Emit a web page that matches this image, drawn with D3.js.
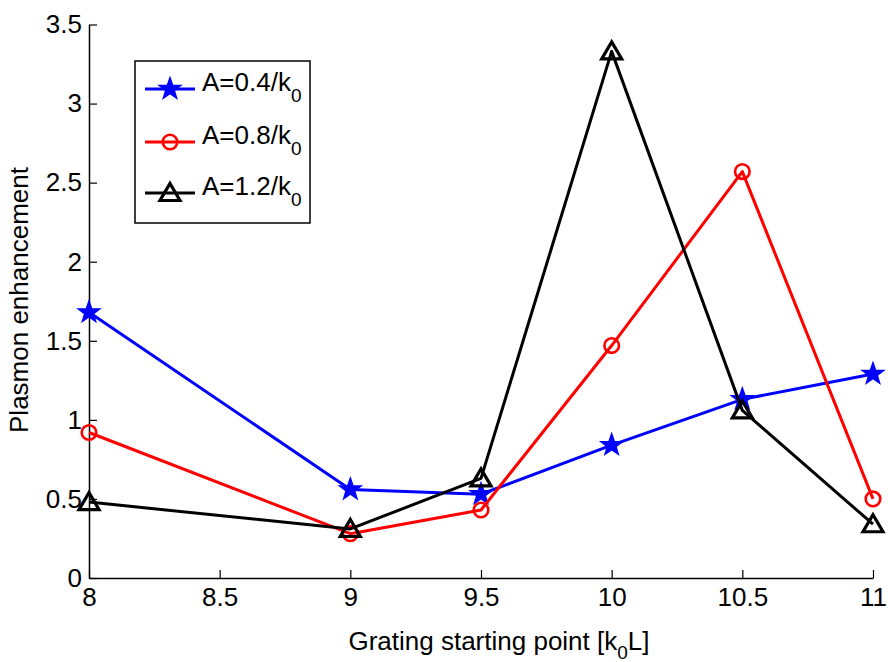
<!DOCTYPE html>
<html>
<head>
<meta charset="utf-8">
<script src="https://cdn.jsdelivr.net/npm/d3@7"></script>
<style>
  body { margin: 0; background: #fff; }
  text { font-family: "Liberation Sans", Arial, Helvetica, sans-serif; fill: #000; }
</style>
</head>
<body>
<svg id="chart" width="888" height="662"></svg>
<script>
// Grating starting points (k0 L) and plasmon enhancement for each amplitude
const startPoints = [8, 9, 9.5, 10, 10.5, 11];
const enhanceA04 = [1.68, 0.56, 0.53, 0.84, 1.13, 1.29];
const enhanceA08 = [0.92, 0.28, 0.43, 1.47, 2.57, 0.50];
const enhanceA12 = [0.48, 0.31, 0.63, 3.33, 1.06, 0.34];
const seriesNames = ["A=0.4/k", "A=0.8/k", "A=1.2/k"];
const seriesColors = ["#0000ff", "#ff0000", "#000000"];
const seriesMarkers = ["star", "circle", "triangle"];
const xTicks = [8, 8.5, 9, 9.5, 10, 10.5, 11];
const yTicks = [0, 0.5, 1, 1.5, 2, 2.5, 3, 3.5];

const svg = d3.select("#chart");
const W = 888, H = 662;
const margin = { left: 89, right: 15, top: 24.5, bottom: 84 };

const x = d3.scaleLinear().domain([8, 11]).range([margin.left, W - margin.right]);
const y = d3.scaleLinear().domain([0, 3.5]).range([H - margin.bottom, margin.top]);

// Axes: ticks point into the plot, no box
const xAxis = d3.axisBottom(x).tickValues(xTicks).tickFormat(d => String(d))
  .tickSizeInner(-8).tickSizeOuter(0).tickPadding(10);
const yAxis = d3.axisLeft(y).tickValues(yTicks).tickFormat(d => String(d))
  .tickSizeInner(-8).tickSizeOuter(0).tickPadding(7);

const gx = svg.append("g").attr("transform", `translate(0,${y(0)})`).call(xAxis);
const gy = svg.append("g").attr("transform", `translate(${x(8)},0)`).call(yAxis);
[gx, gy].forEach(g => {
  g.select(".domain").attr("stroke", "#000").attr("stroke-width", 1.5);
  g.selectAll(".tick line").attr("stroke", "#000").attr("stroke-width", 1.2);
  g.selectAll(".tick text").attr("font-size", 26).attr("fill", "#000")
    .style("font-family", '"Liberation Sans", Arial, sans-serif');
});

// Marker shapes
function starPath(R) {
  const r = R * 0.4;
  const pts = [];
  for (let i = 0; i < 10; i++) {
    const a = -Math.PI / 2 + i * Math.PI / 5;
    const rad = i % 2 === 0 ? R : r;
    pts.push([rad * Math.cos(a), rad * Math.sin(a)]);
  }
  return "M" + pts.map(p => p.join(",")).join("L") + "Z";
}
function drawMarker(g, kind, color, cx, cy) {
  if (kind === "star") {
    g.append("path").attr("d", starPath(10.5))
      .attr("transform", `translate(${cx},${cy})`)
      .attr("fill", color).attr("stroke", color).attr("stroke-width", 2)
      .attr("stroke-linejoin", "miter");
  } else if (kind === "circle") {
    g.append("circle").attr("cx", cx).attr("cy", cy).attr("r", 7.3)
      .attr("fill", "none").attr("stroke", color).attr("stroke-width", 2.6);
  } else {
    g.append("path").attr("d", "M0,-9.5L10,7.5L-10,7.5Z")
      .attr("transform", `translate(${cx},${cy})`)
      .attr("fill", "none").attr("stroke", color).attr("stroke-width", 3.2)
      .attr("stroke-linejoin", "miter");
  }
}

// Data series
const allSeries = [enhanceA04, enhanceA08, enhanceA12];
const line = d3.line().x(d => x(d[0])).y(d => y(d[1]));
allSeries.forEach((vals, i) => {
  const pts = startPoints.map((s, j) => [s, vals[j]]);
  const g = svg.append("g");
  g.append("path").attr("d", line(pts)).attr("fill", "none")
    .attr("stroke", seriesColors[i]).attr("stroke-width", 3)
    .attr("stroke-linejoin", "round");
  pts.forEach(p => drawMarker(g, seriesMarkers[i], seriesColors[i], x(p[0]), y(p[1])));
});

// Legend
const leg = svg.append("g");
leg.append("rect").attr("x", 135).attr("y", 61).attr("width", 175).attr("height", 162)
  .attr("fill", "#fff").attr("stroke", "#000").attr("stroke-width", 1.5);
const rowY = [89, 142, 193];
seriesNames.forEach((name, i) => {
  const ry = rowY[i];
  leg.append("line").attr("x1", 145).attr("x2", 195).attr("y1", ry).attr("y2", ry)
    .attr("stroke", seriesColors[i]).attr("stroke-width", 3);
  drawMarker(leg, seriesMarkers[i], seriesColors[i], 170, ry);
  const t = leg.append("text").attr("x", 202).attr("y", ry + 2).attr("font-size", 26);
  t.append("tspan").text(name);
  t.append("tspan").attr("dy", 11).attr("font-size", 19).text("0");
});

// Axis titles
const xl = svg.append("text").attr("x", 499).attr("y", 650)
  .attr("text-anchor", "middle").attr("font-size", 26);
xl.append("tspan").text("Grating starting point [k");
xl.append("tspan").attr("dy", 9).attr("font-size", 19).text("0");
xl.append("tspan").attr("dy", -9).text("L]");

svg.append("text").attr("transform", "translate(28,300) rotate(-90)")
  .attr("text-anchor", "middle").attr("font-size", 26)
  .text("Plasmon enhancement");
</script>
</body>
</html>
